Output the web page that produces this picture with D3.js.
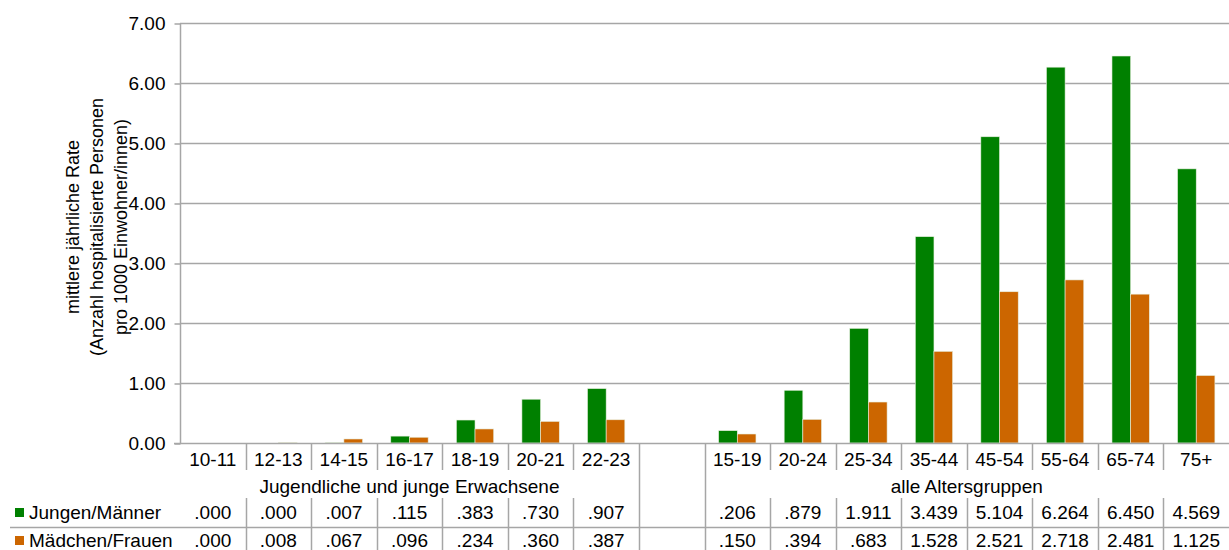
<!DOCTYPE html>
<html>
<head>
<meta charset="utf-8">
<script src="https://cdn.jsdelivr.net/npm/d3@7"></script>
<style>
  body { margin: 0; background: #fff; }
  svg { display: block; font-family: "Liberation Sans", Arial, sans-serif; }
</style>
</head>
<body>
<svg id="chart" width="1229" height="550"></svg>
<script>
// categories, with a blank slot between the two groups
const youthCats = ['10-11', '12-13', '14-15', '16-17', '18-19', '20-21', '22-23'];
const allCats = ['15-19', '20-24', '25-34', '35-44', '45-54', '55-64', '65-74', '75+'];
const groupLabels = ['Jugendliche und junge Erwachsene', 'alle Altersgruppen'];
const seriesNames = ['Jungen/Männer', 'Mädchen/Frauen'];
const maleYouth = [0.000, 0.000, 0.007, 0.115, 0.383, 0.730, 0.907];
const femaleYouth = [0.000, 0.008, 0.067, 0.096, 0.234, 0.360, 0.387];
const maleAll = [0.206, 0.879, 1.911, 3.439, 5.104, 6.264, 6.450, 4.569];
const femaleAll = [0.150, 0.394, 0.683, 1.528, 2.521, 2.718, 2.481, 1.125];
const yTicks = [0, 1, 2, 3, 4, 5, 6, 7];
const colors = ['#008000', '#cc6600'];

const GAP = '__gap__';
const slots = youthCats.map((c, i) => 'y' + i).concat([GAP], allCats.map((c, i) => 'a' + i));
const labels = youthCats.concat([''], allCats);
const male = maleYouth.concat([null], maleAll);
const female = femaleYouth.concat([null], femaleAll);

const svg = d3.select('#chart');
const mLeft = 180, mRight = 1229, mTop = 23, mBottom = 443;
const fs = 19;

const x = d3.scaleBand().domain(slots).range([mLeft, mRight]);
const y = d3.scaleLinear().domain([0, 7]).range([mBottom, mTop]);
const grey = '#a6a6a6';

// grid
svg.append('g').selectAll('line').data(yTicks.slice(1)).join('line')
  .attr('x1', mLeft).attr('x2', mRight)
  .attr('y1', d => y(d) + 0.5).attr('y2', d => y(d) + 0.5)
  .attr('stroke', grey).attr('stroke-width', 1.5);

// y axis
const yAxis = svg.append('g').attr('transform', `translate(${mLeft + 0.5},0.5)`)
  .call(d3.axisLeft(y).tickValues(yTicks).tickFormat(d3.format('.2f')).tickSize(6).tickPadding(9));
yAxis.selectAll('line, path').attr('stroke', grey).attr('stroke-width', 1.5);
yAxis.select('.domain').attr('d', `M0,${mTop}V${mBottom}`);
yAxis.selectAll('text').attr('font-size', fs).attr('fill', '#000')
  .attr('font-family', '"Liberation Sans", Arial, sans-serif');

// y title
const titleLines = ['mittlere jährliche Rate', '(Anzahl hospitalisierte Personen', 'pro 1000 Einwohner/innen)'];
svg.append('text').attr('transform', 'translate(103,227) rotate(-90)')
  .attr('text-anchor', 'middle').attr('font-size', 18)
  .selectAll('tspan').data(titleLines).join('tspan')
  .attr('x', 0).attr('dy', (d, i) => i === 0 ? -24 : 24)
  .text(d => d);

// bars
const bw = x.bandwidth() * 0.285;
const gx = d => x(d) + (x.bandwidth() - 2 * bw) / 2;
[male, female].forEach((vals, s) => {
  svg.append('g').selectAll('rect')
    .data(slots.map((k, i) => ({ k, v: vals[i] })).filter(d => d.v !== null))
    .join('rect')
    .attr('x', d => gx(d.k) + s * bw)
    .attr('y', d => y(d.v))
    .attr('width', bw)
    .attr('height', d => y(0) - y(d.v))
    .attr('fill', colors[s])
    .attr('stroke', '#e8f0e0').attr('stroke-width', 0.6);
});

// baseline
svg.append('line').attr('x1', mLeft - 6).attr('x2', mRight)
  .attr('y1', mBottom + 0.5).attr('y2', mBottom + 0.5)
  .attr('stroke', grey).attr('stroke-width', 1.5);

// table
const t = svg.append('g');
const row1 = 470, rowG1 = 498, rowSep = 527, rowEnd = 550;
// category labels
t.selectAll('text.cat').data(slots).join('text').attr('class', 'cat')
  .attr('x', d => x(d) + x.bandwidth() / 2).attr('y', 466)
  .attr('text-anchor', 'middle').attr('font-size', fs)
  .text((d, i) => labels[i]);
// separators between slots
const inner = slots.slice(1);
t.selectAll('line.sep').data(inner).join('line').attr('class', 'sep')
  .attr('x1', d => Math.round(x(d)) + 0.5).attr('x2', d => Math.round(x(d)) + 0.5)
  .attr('y1', mBottom).attr('y2', d => (d === GAP || d === 'a0') ? rowEnd : row1)
  .attr('stroke', grey).attr('stroke-width', 1.5);
t.selectAll('line.sep2').data(inner.filter(d => d !== GAP && d !== 'a0')).join('line').attr('class', 'sep2')
  .attr('x1', d => Math.round(x(d)) + 0.5).attr('x2', d => Math.round(x(d)) + 0.5)
  .attr('y1', rowG1).attr('y2', rowEnd)
  .attr('stroke', grey).attr('stroke-width', 1.5);
// group labels
const gCenters = [
  (x('y0') + x('y6') + x.bandwidth()) / 2,
  (x('a0') + x('a7') + x.bandwidth()) / 2
];
t.selectAll('text.grp').data(groupLabels).join('text').attr('class', 'grp')
  .attr('x', (d, i) => gCenters[i]).attr('y', 493)
  .attr('text-anchor', 'middle').attr('font-size', fs).text(d => d);
// row separator
t.append('line').attr('x1', 10).attr('x2', mRight)
  .attr('y1', rowSep + 0.5).attr('y2', rowSep + 0.5)
  .attr('stroke', grey).attr('stroke-width', 1.5);
// rows
const fmt = v => d3.format('.3f')(v).replace(/^0\./, '.');
[male, female].forEach((vals, s) => {
  const ty = s === 0 ? 519 : 547;
  t.append('rect').attr('x', 15).attr('y', ty - 11).attr('width', 9).attr('height', 9).attr('fill', colors[s]);
  t.append('text').attr('x', 29).attr('y', ty).attr('font-size', fs).text(seriesNames[s]);
  t.selectAll('text.v' + s).data(slots.map((k, i) => ({ k, v: vals[i] })).filter(d => d.v !== null))
    .join('text').attr('class', 'v' + s)
    .attr('x', d => x(d.k) + x.bandwidth() / 2).attr('y', ty)
    .attr('text-anchor', 'middle').attr('font-size', fs)
    .text(d => fmt(d.v));
});
</script>
</body>
</html>
